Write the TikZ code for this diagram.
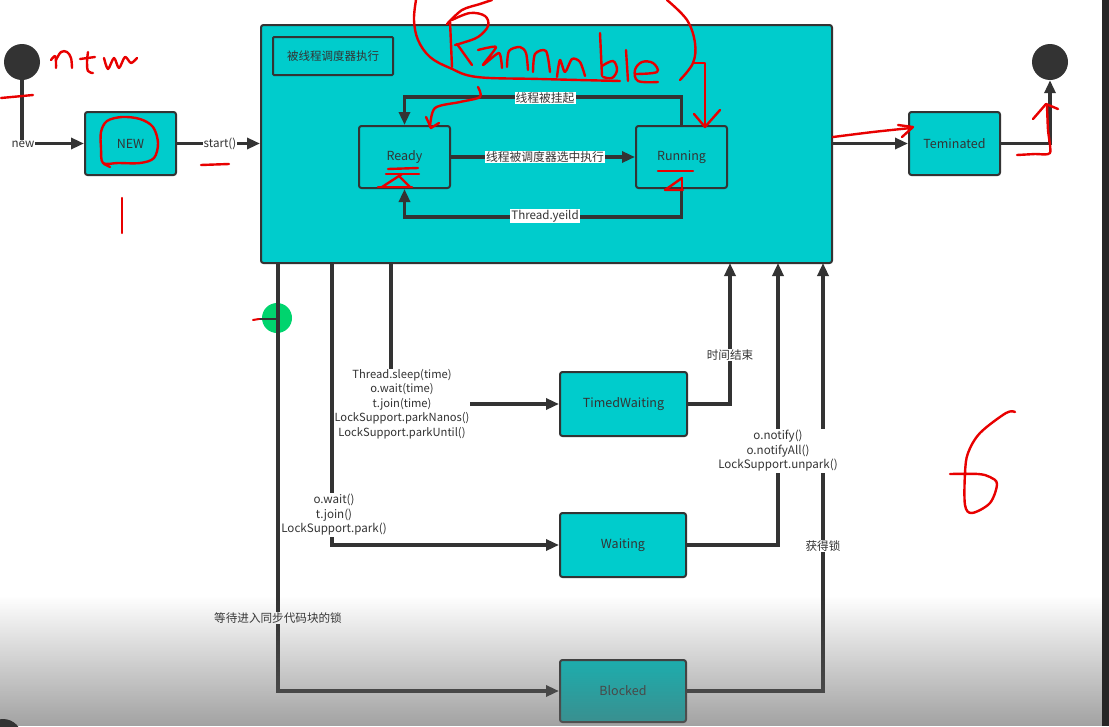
\documentclass[tikz,border=0pt]{standalone}
\usepackage{fontspec}
\setmainfont{Noto Sans CJK SC}
\usetikzlibrary{arrows.meta,fadings,calc}
\definecolor{tealfill}{RGB}{0,204,204}
\definecolor{ink}{RGB}{51,51,51}
\definecolor{penred}{RGB}{232,0,0}
\definecolor{mint}{RGB}{0,212,110}
\definecolor{veil}{RGB}{100,100,100}
\tikzfading[name=fadedown, top color=transparent!100, bottom color=transparent!40]
\begin{document}
\begin{tikzpicture}[x=1pt,y=-1pt,
  state/.style={draw=ink, line width=2pt, fill=tealfill, rounded corners=2.5pt, inner sep=0pt, text=ink, font=\fontsize{12.5}{14}\selectfont},
  conn/.style={draw=ink, line width=3.2pt},
  arr/.style={conn, -{Triangle[length=13pt,width=11pt]}},
  lbl/.style={fill=white, inner sep=1pt, text=ink, font=\fontsize{11.6}{14.5}\selectfont, align=center},
  pen/.style={draw=penred, line width=2.4pt, line cap=round, line join=round},
  dot/.style={circle, fill=ink, minimum size=36pt, inner sep=0pt}]

\useasboundingbox (0,0) rectangle (1109,726);
\fill[white] (0,0) rectangle (1109,726);

% green marker (drawn under the connectors)
\fill[mint] (277,318) circle (15);

% states
\node[dot] (sdot) at (22,62) {};
\node[dot] (edot) at (1050,62) {};
\node[state, minimum width=91pt, minimum height=63pt] (new) at (130.5,143.5) {NEW};
\node[state, minimum width=571pt, minimum height=238pt] (run) at (546.5,144) {};
\node[state, rounded corners=1pt, minimum width=120pt, minimum height=38pt, font=\fontsize{11.5}{13}\selectfont] (exec) at (333,56) {被线程调度器执行};
\node[state, minimum width=91pt, minimum height=62pt] (ready) at (404.5,157) {Ready};
\node[state, minimum width=91pt, minimum height=62pt] (running) at (681.5,157) {Running};
\node[state, minimum width=91pt, minimum height=63pt] (term) at (954.5,143.5) {Teminated};
\node[state, minimum width=127pt, minimum height=64pt] (timed) at (623.5,404) {TimedWaiting};
\node[state, minimum width=126pt, minimum height=64pt] (wait) at (623,545) {Waiting};
\node[state, minimum width=126pt, minimum height=62pt] (blocked) at (623,691) {Blocked};

% free ends on the bottom edge of the big box
\coordinate (o1) at (278,263);
\coordinate (o2) at (332,263);
\coordinate (o3) at (391,263);
\coordinate (i1) at (730,263);
\coordinate (i2) at (778,263);
\coordinate (i3) at (823,263);

% connectors
\draw[arr] (sdot.south) |- (new.west);
\draw[arr] (new.east) -- (run.west |- new.east);
\draw[arr] (running.north) |- ($(ready.north)+(0,-28)$) -- (ready.north);
\draw[arr] (ready.east) -- (running.west);
\draw[arr] (running.south) |- ($(ready.south)+(0,28)$) -- (ready.south);
\draw[arr] (run.east |- term.west) -- (term.west);
\draw[arr] (term.east) -| (edot.south);
\draw[arr] (o3) |- (timed.west);
\draw[arr] (timed.east) -| (i1);
\draw[arr] (wait.east) -| (i2);
\draw[arr] (o1) |- (blocked.west);
\draw[arr] (blocked.east) -| (i3);

\node[lbl, inner sep=0.5pt, font=\fontsize{11.2}{14.5}\selectfont] at (402,404) {Thread.sleep(time)\\o.wait(time)\\t.join(time)\\LockSupport.parkNanos()\\LockSupport.parkUntil()};
\draw[arr] (o2) |- (wait.west);

% labels
\node[lbl] at (23,144) {new};
\node[lbl] at (220,144) {start()};
\node[lbl, font=\fontsize{11.8}{14}\selectfont] at (545,98) {线程被挂起};
\node[lbl, font=\fontsize{11.8}{14}\selectfont] at (545,157) {线程被调度器选中执行};
\node[lbl] at (545,216) {Thread.yeild};
\node[lbl] at (730,355) {时间结束};
\node[lbl] at (334,515) {o.wait()\\t.join()\\LockSupport.park()};
\node[lbl] at (778,451) {o.notify()\\o.notifyAll()\\LockSupport.unpark()};
\node[lbl] at (278,618) {等待进入同步代码块的锁};
\node[lbl] at (823,546) {获得锁};

% marker tick
\draw[ink, line width=2pt] (259,319) -- (277,319);
\draw[pen, line width=2pt] (253,320) -- (259,319);

% ---- red handwriting ----
% "new"
\draw[pen] plot[smooth, tension=0.6] coordinates {(51,60) (55,56) (56,62) (56,68)};
\draw[pen] plot[smooth, tension=0.6] coordinates {(56,60) (61,52) (67,52) (71,58) (72,68)};
\draw[pen] (80,59) -- (95,57);
\draw[pen] plot[smooth, tension=0.6] coordinates {(88,52) (87,62) (88,71) (93,73)};
\draw[pen] plot[smooth, tension=0.5] coordinates {(104,58) (108,69) (114,58) (119,68) (125,57) (131,63) (137,58)};
% marks near start
\draw[pen] (1,98) -- (33,95);
\draw[pen] plot[smooth cycle, tension=0.55] coordinates {(103,163) (101,148) (101,132) (107,121) (122,117) (140,119) (153,127) (158,143) (154,158) (140,163) (118,163)};
\draw[pen] (104,164) -- (110,167);
\draw[pen] (201,165) -- (229,164);
\draw[pen] (122,198) -- (122,233);
% Runnble
\draw[pen] plot[smooth, tension=0.6] coordinates {(416,0) (414,20) (418,40) (430,57) (450,68) (477,77) (540,79) (620,81)};
\draw[pen] (450,21) -- (452,67);
\draw[pen] plot[smooth, tension=0.6] coordinates {(452,20) (470,13) (485,16) (488,26) (478,37) (462,43) (455,45)};
\draw[pen] (457,44) -- (472,65);
\draw[pen] plot[smooth, tension=0.5] coordinates {(447,24) (462,10) (480,4) (492,0)};
\draw[pen] plot[smooth, tension=0.4] coordinates {(478,50) (496,47) (483,65) (499,53) (502,68)};
\draw[pen] plot[smooth, tension=0.5] coordinates {(507,67) (509,51) (520,47) (526,53) (528,70)};
\draw[pen] plot[smooth, tension=0.5] coordinates {(533,72) (535,54) (546,51) (550,72)};
\draw[pen] plot[smooth, tension=0.5] coordinates {(557,77) (560,60) (565,72) (572,59) (580,62) (585,76)};
\draw[pen] (600,33) -- (602,76);
\draw[pen] plot[smooth, tension=0.6] coordinates {(602,66) (613,61) (617,70) (612,78) (603,77)};
\draw[pen] (626,50) -- (628,81);
\draw[pen] plot[smooth, tension=0.6] coordinates {(636,74) (657,72) (653,63) (642,62) (635,70) (638,81) (658,82)};
\draw[pen] plot[smooth, tension=0.6] coordinates {(667,0) (687,20) (695,43) (693,63) (680,80)};
\draw[pen] (693,63) -- (705,63) -- (705,127);
\draw[pen] (694,114) -- (705,127) -- (720,110);
\draw[pen] plot[smooth, tension=0.5] coordinates {(478,87) (480,97) (460,102) (435,108) (430,127)};
\draw[pen] (426,117) -- (431,128) -- (439,123);
% marks under Ready / Running
\draw[pen] (388,169) -- (418,168);
\draw[pen] (386,174) -- (419,174);
\draw[pen] (402,174) -- (382,187);
\draw[pen] (378,187) -- (412,187);
\draw[pen] (400,177) -- (410,187);
\draw[pen] (658,171) -- (693,171);
\draw[pen] (682,178) -- (665,190) -- (683,190);
\draw[pen] (682,178) -- (682,190);
% Teminated marks
\draw[pen] plot[smooth, tension=0.5] coordinates {(833,137) (873,132) (911,128)};
\draw[pen] (898,125) -- (913,127) -- (902,137);
\draw[pen] plot[smooth, tension=0.4] coordinates {(1017,155) (1035,154) (1050,153) (1048,130) (1047,106)};
\draw[pen] (1033,119) -- (1046,104) -- (1058,109);
% "6"
\draw[pen] plot[smooth, tension=0.55] coordinates {(1015,412) (1006,413) (980,433) (968,453) (965,473) (965,505) (972,513) (990,503) (997,484) (990,477) (978,474) (950,474)};

% ---- video overlay ----
\fill[veil, path fading=fadedown] (0,596) rectangle (1109,726);
\fill[black!80] (3,738) circle (19);
\fill[black!85] (1102,0) rectangle (1109,726);
\end{tikzpicture}
\end{document}
